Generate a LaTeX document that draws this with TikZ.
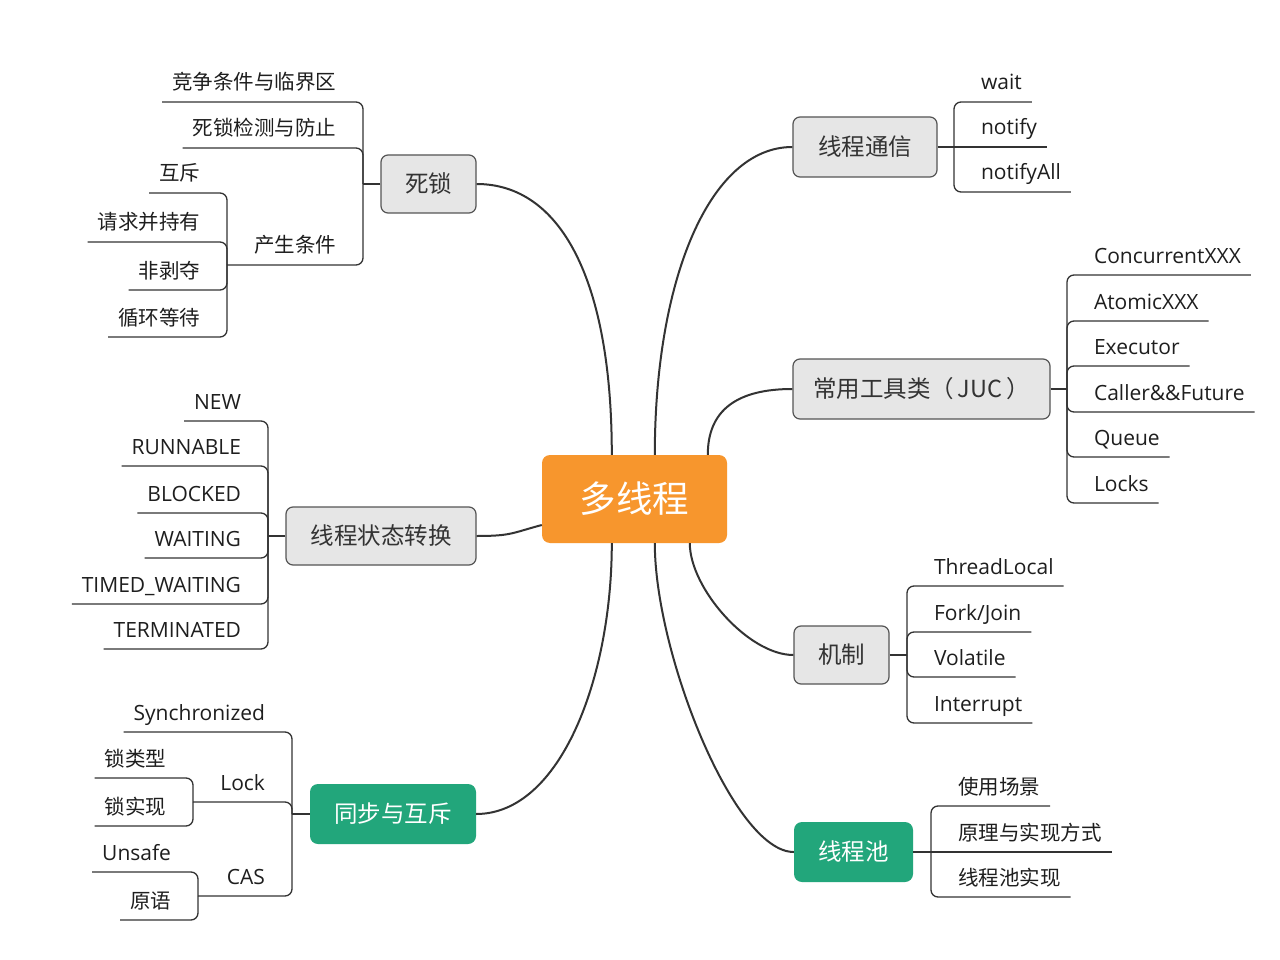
\documentclass[tikz,border=0pt]{standalone}
\usepackage{fontspec}
\setmainfont{Open Sans}
\newfontfamily\cjk{Noto Sans CJK SC}
\newcommand\zhs{\cjk\fontsize{20.5}{24}\selectfont}
\definecolor{mainor}{HTML}{F7962D}
\definecolor{tealbox}{HTML}{22A67B}
\definecolor{boxgray}{HTML}{E6E6E6}
\definecolor{boxedge}{HTML}{555555}
\definecolor{linec}{HTML}{333333}
\definecolor{leaftext}{HTML}{1E1E1E}
\begin{document}
\begin{tikzpicture}[x=1pt,y=-1pt,
  topic/.style={draw=boxedge, line width=1.2pt, fill=boxgray, rounded corners=7pt,
    font=\cjk\fontsize{23.5}{28}\selectfont, text=black!80, inner sep=0pt},
  hot/.style={fill=tealbox, rounded corners=8pt, inner sep=0pt,
    font=\cjk\fontsize{23.5}{28}\selectfont, text=white},
  leaf/.style={inner xsep=10pt, inner ysep=12pt, text depth=0pt, outer sep=0pt,
    font=\fontsize{21}{25}\selectfont, text=leaftext},
  lleaf/.style={leaf, anchor=south east},
  rleaf/.style={leaf, anchor=south west},
  sub/.style={line width=1.3pt, draw=linec, rounded corners=7pt},
  trunk/.style={line width=2pt, draw=linec},
]
\fill[white] (0,0) rectangle (1280,960);
\useasboundingbox (0,0) rectangle (1280,960);

% ---------- central and main topics ----------
\node[fill=mainor, rounded corners=8pt, minimum width=185pt, minimum height=88pt,
  inner sep=0pt, font=\cjk\fontsize{36.5}{40}\selectfont, text=white] (main) at (634.5,499) {多线程};

\node[topic, minimum width=95pt, minimum height=58pt] (ds) at (428.5,184) {死锁};
\node[topic, minimum width=190pt, minimum height=58pt] (zt) at (381,536) {线程状态转换};
\node[hot, minimum width=166pt, minimum height=60pt] (tb) at (393,814) {同步与互斥};
\node[topic, minimum width=144pt, minimum height=60pt] (tx) at (865,147) {线程通信};
\node[topic, minimum width=257pt, minimum height=60pt] (juc) at (921.5,389) {常用工具类（\hspace{4pt}JUC\hspace{4pt}）};
\node[topic, minimum width=95pt, minimum height=58pt] (jz) at (841.5,655) {机制};
\node[hot, minimum width=119pt, minimum height=60pt] (xcc) at (853.5,852) {线程池};

% ---------- trunks ----------
\draw[trunk] (ds.east) .. controls +(84,0) and +(0,-175) .. ([xshift=70pt]main.north west);
\draw[trunk] (tx.west) .. controls +(-83,0) and +(0,-175) .. ([xshift=113pt]main.north west);
\draw[trunk] (juc.west) .. controls +(-55,0) and +(0,-45) .. ([xshift=166pt]main.north west);
\draw[trunk] (zt.east) .. controls +(35,0) and +(-30,8) .. ([yshift=-26pt]main.west);
\draw[trunk] (tb.east) .. controls +(84,0) and +(0,135) .. ([xshift=70pt]main.south west);
\draw[trunk] (jz.west) .. controls +(-45,0) and +(0,45) .. ([xshift=148pt]main.south west);
\draw[trunk] (xcc.west) .. controls +(-60,0) and +(0,110) .. ([xshift=113pt]main.south west);

% ---------- 死锁 ----------
\coordinate (dsj) at (363,184);
\coordinate (csj) at (227,265);
\node[lleaf] (a1) at (346,102) {\zhs 竞争条件与临界区};
\node[lleaf] (a2) at (346,148) {\zhs 死锁检测与防止};
\node[lleaf] (a3) at (346,265) {\zhs 产生条件};
\node[lleaf] (b1) at (210,193) {\zhs 互斥};
\node[lleaf] (b2) at (210,242) {\zhs 请求并持有};
\node[lleaf] (b3) at (210,290) {\zhs 非剥夺};
\node[lleaf] (b4) at (210,337) {\zhs 循环等待};
\draw[sub] (ds.west) -- (dsj);
\draw[sub] (dsj) |- (a1.south west);
\draw[sub] (dsj) |- (a2.south west);
\draw[sub] (dsj) |- (csj);
\foreach \n in {b1,b2,b3,b4} \draw[sub] (csj) |- (\n.south west);

% ---------- 线程状态转换 ----------
\coordinate (ztj) at (268,536);
\node[lleaf] (s1) at (251,421) {NEW};
\node[lleaf] (s2) at (251,466) {RUNNABLE};
\node[lleaf] (s3) at (251,513) {BLOCKED};
\node[lleaf] (s4) at (251,558) {WAITING};
\node[lleaf] (s5) at (251,604) {TIMED\_WAITING};
\node[lleaf] (s6) at (251,649) {TERMINATED};
\draw[sub] (zt.west) -- (ztj);
\foreach \n in {s1,s2,s3,s4,s5,s6} \draw[sub] (ztj) |- (\n.south west);

% ---------- 同步与互斥 ----------
\coordinate (tbj) at (292,814);
\coordinate (lkj) at (193,802);
\coordinate (casj) at (198,896);
\node[lleaf] (t1) at (275,732) {Synchronized};
\node[lleaf] (t2) at (275,802) {Lock};
\node[lleaf] (t3) at (275,896) {CAS};
\node[lleaf] (u1) at (176,778) {\zhs 锁类型};
\node[lleaf] (u2) at (176,826) {\zhs 锁实现};
\node[lleaf] (v1) at (181,872) {Unsafe};
\node[lleaf] (v2) at (181,920) {\zhs 原语};
\draw[sub] (tb.west) -- (tbj);
\draw[sub] (tbj) |- (t1.south west);
\draw[sub] (tbj) |- (lkj);
\draw[sub] (tbj) |- (casj);
\foreach \n in {u1,u2} \draw[sub] (lkj) |- (\n.south west);
\foreach \n in {v1,v2} \draw[sub] (casj) |- (\n.south west);

% ---------- 线程通信 ----------
\coordinate (txj) at (954,147);
\node[rleaf] (w1) at (971,102) {wait};
\node[rleaf] (w2) at (971,147) {notify};
\node[rleaf] (w3) at (971,192) {notifyAll};
\draw[sub] (tx.east) -- (txj);
\draw[sub] (txj) |- (w1.south east);
\draw[sub] (txj) -- (w2.south east);
\draw[sub] (txj) |- (w3.south east);

% ---------- JUC ----------
\coordinate (jucj) at (1067,389);
\node[rleaf] (j1) at (1084,275) {ConcurrentXXX};
\node[rleaf] (j2) at (1084,321) {AtomicXXX};
\node[rleaf] (j3) at (1084,366) {Executor};
\node[rleaf] (j4) at (1084,412) {Caller\&\&Future};
\node[rleaf] (j5) at (1084,457) {Queue};
\node[rleaf] (j6) at (1084,503) {Locks};
\draw[sub] (juc.east) -- (jucj);
\foreach \n in {j1,j2,j3,j4,j5,j6} \draw[sub] (jucj) |- (\n.south east);

% ---------- 机制 ----------
\coordinate (jzj) at (907,655);
\node[rleaf] (m1) at (924,586) {ThreadLocal};
\node[rleaf] (m2) at (924,632) {Fork/Join};
\node[rleaf] (m3) at (924,677) {Volatile};
\node[rleaf] (m4) at (924,723) {Interrupt};
\draw[sub] (jz.east) -- (jzj);
\foreach \n in {m1,m2,m3,m4} \draw[sub] (jzj) |- (\n.south east);

% ---------- 线程池 ----------
\coordinate (xccj) at (931,852);
\node[rleaf] (p1) at (948,806) {\zhs 使用场景};
\node[rleaf] (p2) at (948,852) {\zhs 原理与实现方式};
\node[rleaf] (p3) at (948,897) {\zhs 线程池实现};
\draw[sub] (xcc.east) -- (xccj);
\draw[sub] (xccj) |- (p1.south east);
\draw[sub] (xccj) -- (p2.south east);
\draw[sub] (xccj) |- (p3.south east);
\end{tikzpicture}
\end{document}
